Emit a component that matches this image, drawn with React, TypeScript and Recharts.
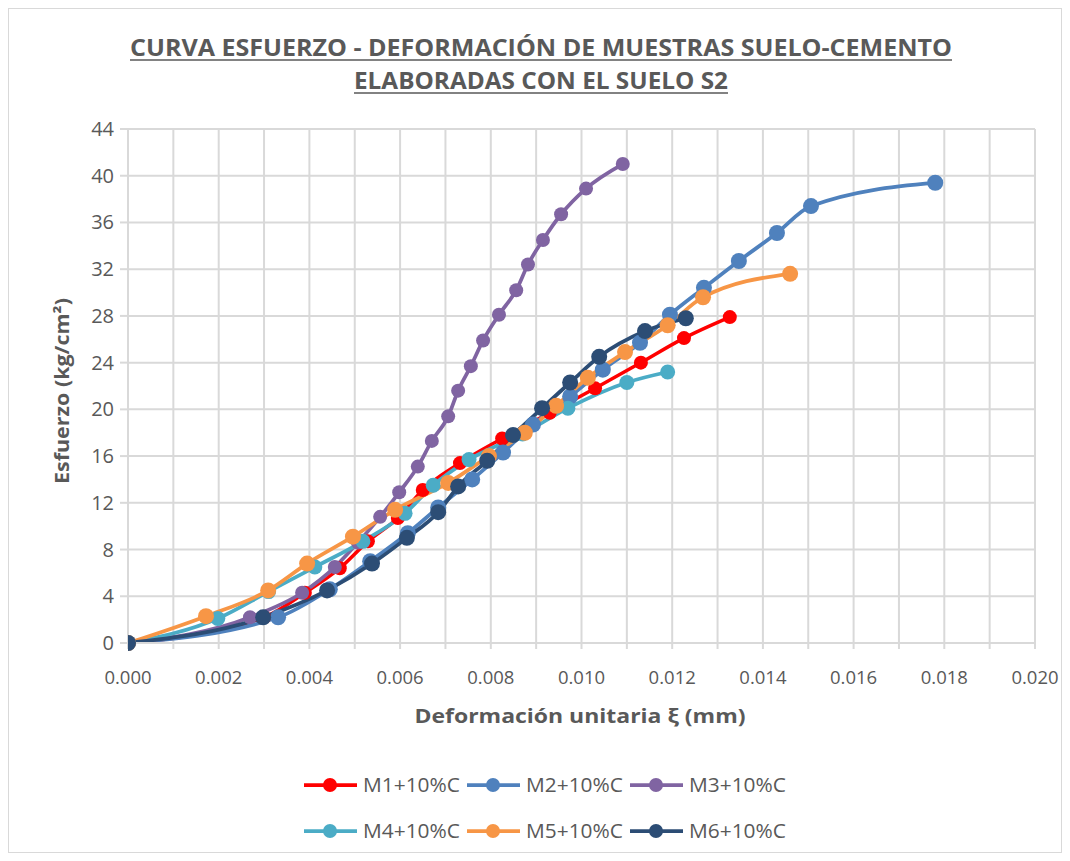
import React from 'react';
import { LineChart, Line, XAxis, YAxis, CartesianGrid } from 'recharts';

const FONT = '"Open Sans", "Liberation Sans", sans-serif';
const TXT = '#595959';

const chartTitle1 = 'CURVA ESFUERZO - DEFORMACIÓN DE MUESTRAS SUELO-CEMENTO';
const chartTitle2 = 'ELABORADAS CON EL SUELO S2';
const xAxisTitle = 'Deformación unitaria ξ (mm)';
const yAxisTitle = 'Esfuerzo (kg/cm²)';

const xGridTicks = [0, 0.001, 0.002, 0.003, 0.004, 0.005, 0.006, 0.007, 0.008, 0.009, 0.01, 0.011, 0.012, 0.013, 0.014, 0.015, 0.016, 0.017, 0.018, 0.019, 0.02];
const xTickLabels = ['0.000', '', '0.002', '', '0.004', '', '0.006', '', '0.008', '', '0.010', '', '0.012', '', '0.014', '', '0.016', '', '0.018', '', '0.020'];
const yTicks = [0, 4, 8, 12, 16, 20, 24, 28, 32, 36, 40, 44];

const m1X = [0, 0.0030, 0.0039, 0.00467, 0.00529, 0.00595, 0.0065, 0.00732, 0.00825, 0.0093, 0.0103, 0.01131, 0.01226, 0.01327];
const m1Y = [0, 2.2, 4.3, 6.4, 8.7, 10.7, 13.1, 15.4, 17.5, 19.7, 21.8, 24.0, 26.1, 27.9];

const m2X = [0, 0.00331, 0.00445, 0.00534, 0.00617, 0.00684, 0.00759, 0.00827, 0.00893, 0.00975, 0.01047, 0.01129, 0.01195, 0.0127, 0.01347, 0.01431, 0.01506, 0.0178];
const m2Y = [0, 2.2, 4.6, 7.0, 9.4, 11.6, 14.0, 16.3, 18.7, 21.1, 23.4, 25.7, 28.1, 30.4, 32.7, 35.1, 37.4, 39.4];

const m3X = [0, 0.00269, 0.00384, 0.00456, 0.00507, 0.00556, 0.00598, 0.00639, 0.0067, 0.00706, 0.00728, 0.00756, 0.00783, 0.00818, 0.00856, 0.00882, 0.00915, 0.00955, 0.0101, 0.01091];
const m3Y = [0, 2.2, 4.3, 6.5, 8.6, 10.8, 12.9, 15.1, 17.3, 19.4, 21.6, 23.7, 25.9, 28.1, 30.2, 32.4, 34.5, 36.7, 38.9, 41.0];

const m4X = [0, 0.00198, 0.0031, 0.00412, 0.00518, 0.00611, 0.00673, 0.00752, 0.0087, 0.0097, 0.0110, 0.0119];
const m4Y = [0, 2.1, 4.4, 6.5, 8.7, 11.1, 13.5, 15.7, 17.9, 20.1, 22.3, 23.2];

const m5X = [0, 0.00172, 0.00309, 0.00395, 0.00496, 0.00589, 0.00706, 0.00796, 0.00875, 0.00944, 0.01014, 0.01096, 0.0119, 0.01268, 0.0146];
const m5Y = [0, 2.3, 4.5, 6.8, 9.1, 11.4, 13.7, 16.0, 18.0, 20.3, 22.7, 24.9, 27.2, 29.6, 31.6];

const m6X = [0, 0.00298, 0.00439, 0.00538, 0.00615, 0.00684, 0.00728, 0.00792, 0.00849, 0.00913, 0.00975, 0.01039, 0.0114, 0.0123];
const m6Y = [0, 2.2, 4.5, 6.8, 9.0, 11.2, 13.4, 15.6, 17.8, 20.1, 22.3, 24.5, 26.7, 27.8];

const seriesNames = ['M1+10%C', 'M2+10%C', 'M3+10%C', 'M4+10%C', 'M5+10%C', 'M6+10%C'];
const seriesColors = ['#FF0000', '#4F81BD', '#8064A2', '#4BACC6', '#F79646', '#2C4D75'];
const seriesX = [m1X, m2X, m3X, m4X, m5X, m6X];
const seriesY = [m1Y, m2Y, m3Y, m4Y, m5Y, m6Y];
const dotR = [7, 8, 7, 7.5, 8, 8];
const lineW = [3.5, 3.75, 3.75, 3.75, 3.75, 3.75];

const series = seriesNames.map((name, i) => ({
  name,
  color: seriesColors[i],
  data: seriesX[i].map((x, j) => ({ x, y: seriesY[i][j] })),
}));

const W = 1054;
const H = 845;

const XTick = (p: any) => {
  const idx = xGridTicks.findIndex((t) => Math.abs(t - p.payload.value) < 1e-9);
  const label = idx >= 0 ? xTickLabels[idx] : '';
  if (!label) return <g />;
  return (
    <text x={p.x} y={p.y + 35} textAnchor="middle" fill={TXT} fontSize={18.5} fontFamily={FONT}>
      {label}
    </text>
  );
};

const YTick = (p: any) => (
  <text x={p.x - 6} y={p.y + 7} textAnchor="end" fill={TXT} fontSize={20} fontFamily={FONT}>
    {p.payload.value}
  </text>
);

const legendCols = [296, 459, 622];
const legendRows = [777, 823];

export default function App() {
  return (
    <div style={{ position: 'relative', width: W, height: H, background: '#fff' }}>
      <LineChart
        width={W}
        height={H}
        margin={{ top: 121, right: 27, left: 0, bottom: 170 }}
      >
        <CartesianGrid stroke="#d9d9d9" strokeWidth={2} />
        <XAxis
          type="number"
          dataKey="x"
          domain={[0, 0.02]}
          ticks={xGridTicks}
          interval={0}
          allowDataOverflow
          height={40}
          tickSize={6}
          tickMargin={0}
          stroke="#d9d9d9"
          tickLine={{ stroke: '#d9d9d9', strokeWidth: 2 }}
          axisLine={{ stroke: '#d9d9d9', strokeWidth: 2 }}
          tick={XTick}
        />
        <YAxis
          type="number"
          dataKey="y"
          domain={[0, 44]}
          ticks={yTicks}
          interval={0}
          width={120}
          tickSize={8}
          tickMargin={0}
          tickLine={{ stroke: '#d9d9d9', strokeWidth: 2 }}
          axisLine={{ stroke: '#d9d9d9', strokeWidth: 2 }}
          tick={YTick}
        />
        {series.map((s, i) => (
          <Line
            key={s.name}
            data={s.data}
            dataKey="y"
            name={s.name}
            type="monotone"
            stroke={s.color}
            strokeWidth={lineW[i]}
            dot={{ r: dotR[i], fill: s.color, stroke: s.color, strokeWidth: 0 }}
            activeDot={false}
            isAnimationActive={false}
          />
        ))}
      </LineChart>
      <svg
        width={W}
        height={H}
        style={{ position: 'absolute', left: 0, top: 0, pointerEvents: 'none' }}
      >
        <rect x={0.5} y={0.5} width={W - 1} height={H - 1} fill="none" stroke="#d9d9d9" strokeWidth={1} />
        <text x={533} y={48} textAnchor="middle" fill={TXT} fontSize={23} fontWeight="bold" fontFamily={FONT} textLength={822} lengthAdjust="spacingAndGlyphs">
          {chartTitle1}
        </text>
        <line x1={122} x2={944} y1={52} y2={52} stroke={TXT} strokeWidth={1.5} />
        <text x={533} y={81} textAnchor="middle" fill={TXT} fontSize={23} fontWeight="bold" fontFamily={FONT} textLength={374} lengthAdjust="spacingAndGlyphs">
          {chartTitle2}
        </text>
        <line x1={346} x2={720} y1={85} y2={85} stroke={TXT} strokeWidth={1.5} />
        <text x={572} y={715} textAnchor="middle" fill={TXT} fontSize={19} fontWeight="bold" fontFamily={FONT} textLength={331} lengthAdjust="spacingAndGlyphs">
          {xAxisTitle}
        </text>
        <text x={61} y={383} transform="rotate(-90, 61, 383)" textAnchor="middle" fill={TXT} fontSize={19} fontWeight="bold" fontFamily={FONT} textLength={186} lengthAdjust="spacingAndGlyphs">
          {yAxisTitle}
        </text>
        {series.map((s, i) => {
          const lx = legendCols[i % 3];
          const ly = legendRows[Math.floor(i / 3)];
          return (
            <g key={s.name}>
              <line x1={lx} x2={lx + 53} y1={ly} y2={ly} stroke={s.color} strokeWidth={3.75} />
              <circle cx={lx + 26} cy={ly} r={7} fill={s.color} />
              <text x={lx + 59} y={ly + 7} fill={TXT} fontSize={20} fontFamily={FONT} textLength={97} lengthAdjust="spacingAndGlyphs">
                {s.name}
              </text>
            </g>
          );
        })}
      </svg>
    </div>
  );
}
